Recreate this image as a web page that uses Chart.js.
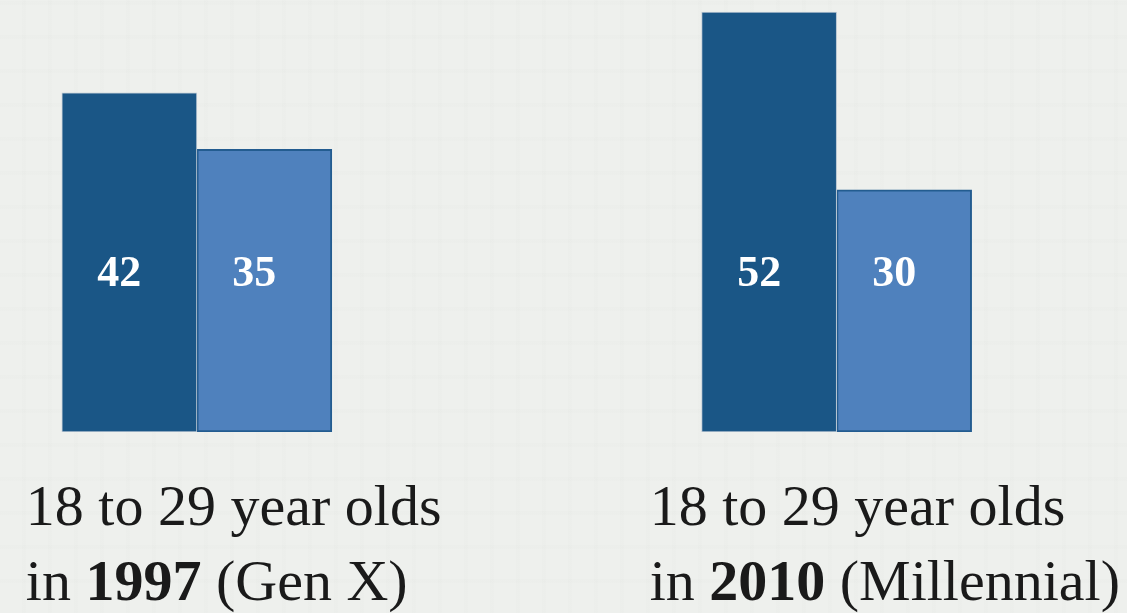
<!DOCTYPE html>
<html>
<head>
<meta charset="utf-8">
<script src="https://cdn.jsdelivr.net/npm/chart.js@4"></script>
<style>
  html, body { margin: 0; padding: 0; }
  body {
    width: 1127px;
    height: 613px;
    overflow: hidden;
    background-color: #eef0ed;
    background-image:
      repeating-linear-gradient(90deg, rgba(0,0,0,0) 0px, rgba(0,0,0,0) 22px, rgba(90,100,90,0.012) 22px, rgba(90,100,90,0.012) 26px),
      repeating-linear-gradient(0deg, rgba(0,0,0,0) 0px, rgba(0,0,0,0) 30px, rgba(90,100,90,0.01) 30px, rgba(90,100,90,0.01) 34px);
  }
  #wrap { position: relative; width: 1127px; height: 613px; }
</style>
</head>
<body>
<div id="wrap"><canvas id="barChart"></canvas></div>
<script>
// survey years and the two shares for each
const years = [1997, 2010];
const firstShare = [42, 52];
const secondShare = [35, 30];
const generations = ['Gen X', 'Millennial'];
const captionTop = '18 to 29 year olds';

const darkBlue = '#1a5686';
const lightBlue = '#4f81bd';

// value printed inside every bar, a bit left of centre
const valueLabels = {
  id: 'valueLabels',
  afterDatasetsDraw(chart) {
    const { ctx, chartArea } = chart;
    ctx.save();
    ctx.fillStyle = '#ffffff';
    ctx.font = 'bold 44px "Liberation Serif", "Times New Roman", serif';
    ctx.textAlign = 'center';
    ctx.textBaseline = 'alphabetic';
    chart.data.datasets.forEach((ds, i) => {
      chart.getDatasetMeta(i).data.forEach((bar, j) => {
        ctx.fillText(String(ds.data[j].y), bar.x - 10, chartArea.bottom - 146);
      });
    });
    ctx.restore();
  }
};

// two-line caption under each group, year in bold
const captions = {
  id: 'captions',
  afterDraw(chart) {
    const { ctx, chartArea } = chart;
    const xs = chart.scales.x;
    const shift = [-171, -187];
    const regular = '58px "Liberation Serif", "Times New Roman", serif';
    const bold = 'bold 58px "Liberation Serif", "Times New Roman", serif';
    ctx.save();
    ctx.fillStyle = '#1a1a1a';
    ctx.textBaseline = 'alphabetic';
    ctx.textAlign = 'left';
    years.forEach((yr, i) => {
      let x = xs.getPixelForValue(yr) + shift[i];
      ctx.font = regular;
      ctx.fillText(captionTop, x, chartArea.bottom + 93);
      const parts = [['in ', regular], [String(yr), bold], [' (' + generations[i] + ')', regular]];
      parts.forEach(([txt, f]) => {
        ctx.font = f;
        ctx.fillText(txt, x, chartArea.bottom + 168);
        x += ctx.measureText(txt).width;
      });
    });
    ctx.restore();
  }
};

const ctx = document.getElementById('barChart').getContext('2d');
new Chart(ctx, {
  type: 'bar',
  data: {
    datasets: [{
      label: 'first',
      data: years.map((yr, i) => ({ x: yr, y: firstShare[i] })),
      backgroundColor: darkBlue,
      borderColor: '#b9c6d2',
      borderWidth: 1,
      borderSkipped: false,
      barThickness: 135,
    }, {
      label: 'second',
      data: years.map((yr, i) => ({ x: yr, y: secondShare[i] })),
      backgroundColor: lightBlue,
      borderColor: '#235c90',
      borderWidth: 2,
      borderSkipped: false,
      barThickness: 135,
    }],
  },
  options: {
    responsive: true,
    maintainAspectRatio: false,
    animation: false,
    layout: { padding: { top: 0, left: 0, right: 0, bottom: 181 } },
    plugins: {
      legend: { display: false },
      tooltip: { enabled: false },
    },
    scales: {
      x: { type: 'linear', min: 1993, max: 2015.9, offset: false, display: false },
      y: { min: 0, max: 53.5, display: false },
    },
  },
  plugins: [valueLabels, captions],
});
</script>
</body>
</html>
